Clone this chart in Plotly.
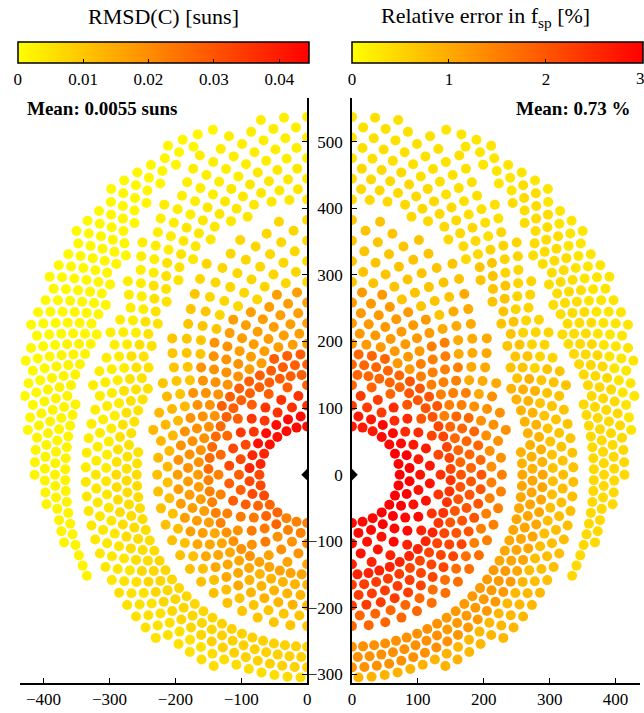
import numpy as np
import plotly.graph_objects as go

# ---------------- data ----------------
# radial-staggered heliostat field: concentric rows, zones with different
# heliostat counts; zone borders bend outward towards the north
row_first_r = 72.5          # m
row_step = 15.5             # m
row_count = 32
zone_n_per_circle = [28, 56, 96, 140]
border_r_east = [142.0, 250.0, 358.0]      # m, zone borders due east/west
border_north_extra = [0.0, 150.0, 200.0]   # m, extra radius due north
border_north_power = [1.0, 3.0, 4.4]
border_gap_half = [0.0, 8.0, 8.0]          # m, empty lane around a border
field_outer_center_y = 120.0               # outer boundary circle
field_outer_radius = 432.0

# colour values on a coarse (equivalent radius x angle-from-north) grid
r_bin_edges = [0, 95, 125, 160, 200, 250, 300, 360, 420, 2000]
phi_bin_edges = [0, 30, 60, 90, 120, 150, 181]
rmsd_grid = [
    [0.043, 0.042, 0.038, 0.032, 0.027, 0.022],
    [0.036, 0.035, 0.032, 0.028, 0.023, 0.019],
    [0.028, 0.028, 0.026, 0.022, 0.019, 0.016],
    [0.017, 0.019, 0.019, 0.017, 0.015, 0.013],
    [0.007, 0.010, 0.012, 0.011, 0.011, 0.010],
    [0.004, 0.005, 0.005, 0.006, 0.007, 0.008],
    [0.003, 0.003, 0.003, 0.004, 0.005, 0.006],
    [0.0015, 0.0015, 0.002, 0.002, 0.003, 0.004],
    [0.001, 0.001, 0.001, 0.0015, 0.002, 0.003],
]
err_grid = [
    [2.7, 2.9, 3.0, 3.0, 3.0, 2.9],
    [2.3, 2.5, 2.7, 2.8, 2.9, 2.8],
    [1.8, 2.0, 2.2, 2.4, 2.6, 2.6],
    [1.2, 1.5, 1.8, 2.0, 2.2, 2.3],
    [0.7, 1.0, 1.3, 1.5, 1.7, 1.8],
    [0.45, 0.7, 0.9, 1.05, 1.2, 1.3],
    [0.35, 0.5, 0.7, 0.75, 0.85, 0.9],
    [0.3, 0.4, 0.45, 0.45, 0.5, 0.6],
    [0.25, 0.3, 0.3, 0.3, 0.35, 0.4],
]
rmsd_ticks = [0, 0.01, 0.02, 0.03, 0.04]
err_ticks = [0, 1, 2]
err_edge_tick = "3"
x_ticks_left = [-400, -300, -200, -100, 0]
x_ticks_right = [0, 100, 200, 300, 400]
y_ticks = [-300, -200, -100, 0, 100, 200, 300, 400, 500]
rmsd_mean_text = "Mean: 0.0055 suns"
err_mean_text = "Mean: 0.73 %"

# ---------------- build layout ----------------
def border(i, az):
    return border_r_east[i] + border_north_extra[i] * max(np.cos(az), 0.0) ** border_north_power[i]


n_z = len(zone_n_per_circle)
xs, ys, req = [], [], []
for k in range(row_count):
    R = row_first_r + k * row_step
    off = 0.5 * (k % 2)
    for z, n in enumerate(zone_n_per_circle):
        for j in range(n):
            az = (j + off) * 2 * np.pi / n          # from north, clockwise
            lo = border(z - 1, az) if z > 0 else row_first_r
            hi = border(z, az) if z < n_z - 1 else np.inf
            lo_gap = border_gap_half[z - 1] if z > 0 else 0.0
            hi_gap = border_gap_half[z] if z < n_z - 1 else 0.0
            if not (lo + lo_gap <= R < hi - hi_gap):
                continue
            x, y = R * np.sin(az), R * np.cos(az)
            if x * x + (y - field_outer_center_y) ** 2 > field_outer_radius ** 2:
                continue
            e_lo = border_r_east[z - 1] if z > 0 else row_first_r
            if z < n_z - 1:
                e_hi = border_r_east[z]
                r_eq = e_lo + (R - lo) / (hi - lo) * (e_hi - e_lo)
            else:
                r_eq = e_lo + (R - lo)
            xs.append(x)
            ys.append(y)
            req.append(r_eq)
xs = np.array(xs)
ys = np.array(ys)
rr = np.array(req)
phi = np.degrees(np.arctan2(np.abs(xs), ys))


def lookup(grid):
    g = np.array(grid)
    ri = np.clip(np.searchsorted(r_bin_edges, rr, side="right") - 1, 0, g.shape[0] - 1)
    pi = np.clip(np.searchsorted(phi_bin_edges, phi, side="right") - 1, 0, g.shape[1] - 1)
    return g[ri, pi]


vals_rmsd = lookup(rmsd_grid)
vals_err = lookup(err_grid)
left = xs <= 1e-6
right = xs >= -1e-6

FONT = "Liberation Serif, Times New Roman, serif"
scale = [[0, "rgb(255,255,0)"], [1, "rgb(255,0,0)"]]
W, H = 644, 713

fig = go.Figure()
fig.add_trace(go.Scatter(
    x=xs[left], y=ys[left], mode="markers", xaxis="x", yaxis="y",
    marker=dict(size=10, color=vals_rmsd[left], coloraxis="coloraxis", line=dict(width=0)),
    hoverinfo="skip", showlegend=False))
fig.add_trace(go.Scatter(
    x=xs[right], y=ys[right], mode="markers", xaxis="x2", yaxis="y2",
    marker=dict(size=10, color=vals_err[right], coloraxis="coloraxis2", line=dict(width=0)),
    hoverinfo="skip", showlegend=False))
# tower
fig.add_trace(go.Scatter(x=[0], y=[0], mode="markers", xaxis="x", yaxis="y",
                         marker=dict(symbol="diamond", size=9, color="black"),
                         hoverinfo="skip", showlegend=False))
fig.add_trace(go.Scatter(x=[0], y=[0], mode="markers", xaxis="x2", yaxis="y2",
                         marker=dict(symbol="diamond", size=9, color="black"),
                         hoverinfo="skip", showlegend=False))

px_per = 0.6675
x0L, x0R, y0 = 307.0, 352.3, 476.0
plot_top, plot_bot = 98.0, 684.5
left_px = 16.7
xrL = [(left_px - x0L) / px_per, 0]
xrR = [0, (W - x0R) / px_per]
yr = [(y0 - plot_bot) / px_per, (y0 - plot_top) / px_per]
ydom = [(H - plot_bot) / H, (H - plot_top) / H]

axis_common = dict(showgrid=False, zeroline=False, showline=True, linecolor="black",
                   linewidth=1.5, ticks="inside", ticklen=5, tickwidth=1.2, tickcolor="black",
                   tickfont=dict(family=FONT, size=17, color="black"))

fig.update_layout(
    width=W, height=H, margin=dict(l=0, r=0, t=0, b=0),
    plot_bgcolor="white", paper_bgcolor="white",
    xaxis=dict(domain=[left_px / W, x0L / W], range=xrL, tickvals=x_ticks_left,
               ticktext=[str(v).replace("-", "\u2212") for v in x_ticks_left],
               anchor="y", **axis_common),
    yaxis=dict(domain=ydom, range=yr, side="right", tickvals=y_ticks, showticklabels=False,
               anchor="x", **axis_common),
    xaxis2=dict(domain=[x0R / W, 1.0], range=xrR, tickvals=x_ticks_right, anchor="y2",
                **axis_common),
    yaxis2=dict(domain=ydom, range=yr, side="left", tickvals=y_ticks, anchor="x2",
                ticktext=[str(v).replace("-", "\u2212") for v in y_ticks],
                ticklabelstandoff=4, **axis_common),
    coloraxis=dict(cmin=0, cmax=0.0445, colorscale=scale,
                   colorbar=dict(orientation="h", x=(15.7 + 306.7) / 2 / W, xanchor="center",
                                 y=(H - 41.7) / H, yanchor="top", ypad=0, xpad=0,
                                 len=291, lenmode="pixels", thickness=21,
                                 outlinewidth=1.5, outlinecolor="black",
                                 tickvals=rmsd_ticks, ticks="inside", ticklen=4,
                                 tickcolor="black",
                                 tickfont=dict(family=FONT, size=17, color="black"))),
    coloraxis2=dict(cmin=0, cmax=3.0, colorscale=scale,
                    colorbar=dict(orientation="h", x=352.3 / W, xanchor="left",
                                  y=(H - 41.7) / H, yanchor="top", ypad=0, xpad=0,
                                  len=291, lenmode="pixels", thickness=21,
                                  outlinewidth=1.5, outlinecolor="black",
                                  tickvals=err_ticks, ticks="inside", ticklen=4,
                                  tickcolor="black",
                                  tickfont=dict(family=FONT, size=17, color="black"))),
)

fig.add_annotation(x=644 / W, y=(H - 79) / H, xref="paper", yref="paper",
                   text=err_edge_tick, showarrow=False, xanchor="center", yanchor="middle",
                   font=dict(family=FONT, size=17, color="black"))
fig.add_annotation(x=161 / W, y=(H - 17) / H, xref="paper", yref="paper",
                   text="RMSD(C) [suns]", showarrow=False, xanchor="center", yanchor="middle",
                   font=dict(family=FONT, size=22, color="black"))
fig.add_annotation(x=488 / W, y=(H - 17) / H, xref="paper", yref="paper",
                   text="Relative error in f<sub>sp</sub> [%]", showarrow=False,
                   xanchor="center", yanchor="middle",
                   font=dict(family=FONT, size=22, color="black"))
fig.add_annotation(x=21 / W, y=(H - 109) / H, xref="paper", yref="paper",
                   text="<b>" + rmsd_mean_text + "</b>", showarrow=False, xanchor="left",
                   yanchor="middle", font=dict(family=FONT, size=19, color="black"))
fig.add_annotation(x=637 / W, y=(H - 109) / H, xref="paper", yref="paper",
                   text="<b>" + err_mean_text + "</b>", showarrow=False, xanchor="right",
                   yanchor="middle", font=dict(family=FONT, size=19, color="black"))

fig.write_html("out.html")
